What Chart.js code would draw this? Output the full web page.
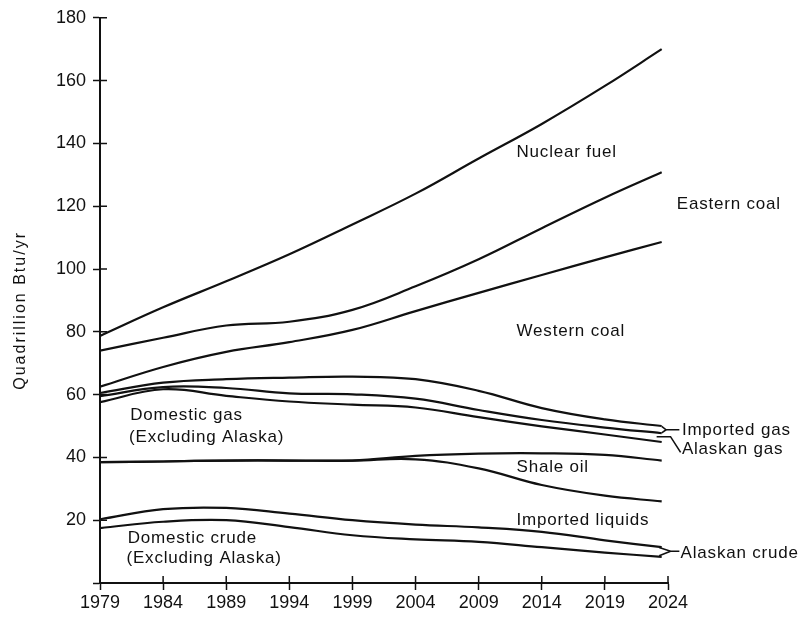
<!DOCTYPE html>
<html>
<head>
<meta charset="utf-8">
<script src="https://cdn.jsdelivr.net/npm/chart.js@4/dist/chart.umd.min.js"></script>
<style>
  html, body { margin: 0; background: #fff; }
  #wrap { width: 801px; height: 620px; }
</style>
</head>
<body>
<div id="wrap"><canvas id="chart"></canvas></div>
<script>
// years sampled along every curve (last point sits just short of 2024)
const years = [1979, 1984, 1989, 1994, 1999, 2004, 2009, 2014, 2019, 2023.5];
const yearTicks = [1979, 1984, 1989, 1994, 1999, 2004, 2009, 2014, 2019, 2024];
const valueTicks = [0, 20, 40, 60, 80, 100, 120, 140, 160, 180];

// cumulative boundary lines, quadrillion Btu/yr, top to bottom
const nuclearTop = [78.7, 87.8, 96.1, 104.7, 114.2, 124.0, 135.2, 146.2, 158.3, 170.0];
const easternCoalTop = [74.0, 78.1, 82.0, 83.2, 87.0, 94.5, 103.1, 113.0, 122.7, 130.8];
const westernCoalTop = [62.5, 68.8, 73.6, 76.7, 80.6, 86.6, 92.4, 98.1, 103.7, 108.6];
const importedGasTop = [60.5, 63.8, 64.9, 65.4, 65.7, 64.9, 61.2, 55.7, 52.1, 50.0];
const alaskanGasTop = [59.5, 62.4, 62.1, 60.4, 60.1, 58.7, 55.1, 51.9, 49.5, 47.7];
const domesticGasTop = [57.6, 61.7, 59.6, 57.8, 56.8, 55.9, 52.8, 49.9, 47.3, 44.9];
const shaleOilTop = [38.5, 38.7, 39.0, 39.0, 39.0, 40.5, 41.2, 41.3, 40.8, 39.0];
const importedLiquidsTop = [38.5, 38.7, 39.0, 39.0, 39.0, 39.4, 36.5, 31.2, 27.8, 26.0];
const alaskanCrudeTop = [20.3, 23.5, 23.9, 22.1, 20.0, 18.6, 17.7, 16.3, 13.6, 11.4];
const domesticCrudeTop = [17.5, 19.5, 20.0, 17.8, 15.2, 13.9, 13.1, 11.4, 9.7, 8.3];

const curves = [nuclearTop, easternCoalTop, westernCoalTop, importedGasTop, alaskanGasTop,
  domesticGasTop, shaleOilTop, importedLiquidsTop, alaskanCrudeTop, domesticCrudeTop];

// area labels, placed in data units: [text, year, value]
const notes = [
  ["Nuclear fuel", 2012.0, 137.3],
  ["Eastern coal", 2024.7, 120.5],
  ["Western coal", 2012.0, 80.2],
  ["Domestic gas", 1981.4, 53.3],
  ["(Excluding Alaska)", 1981.3, 46.3],
  ["Imported gas", 2025.1, 48.6],
  ["Alaskan gas", 2025.1, 42.5],
  ["Shale oil", 2012.0, 36.8],
  ["Imported liquids", 2012.0, 20.0],
  ["Domestic crude", 1981.2, 14.3],
  ["(Excluding Alaska)", 1981.1, 7.9],
  ["Alaskan crude", 2025.0, 9.6],
];
const leaders = [
  [[2023.5, 49.9], [2023.85, 48.8], [2024.9, 48.8]],
  [[2023.5, 47.8], [2023.85, 48.8]],
  [[2023.1, 46.6], [2024.2, 46.6], [2025.0, 41.6]],
  [[2023.3, 11.3], [2024.2, 10.1], [2024.9, 10.1]],
  [[2023.3, 8.7], [2024.2, 10.1]],
];

const INK = "#111";

const annotate = {
  id: "annotate",
  afterDraw(chart) {
    const { ctx, scales: { x, y }, chartArea } = chart;
    ctx.save();
    // inner half of the crossing tick marks
    ctx.strokeStyle = INK;
    ctx.lineWidth = 1.5;
    ctx.beginPath();
    valueTicks.forEach((v) => {
      if (v === 0) return;
      const py = y.getPixelForValue(v);
      ctx.moveTo(chartArea.left, py);
      ctx.lineTo(chartArea.left + 7, py);
    });
    yearTicks.forEach((v) => {
      if (v === yearTicks[0]) return;
      const px = x.getPixelForValue(v);
      ctx.moveTo(px, chartArea.bottom);
      ctx.lineTo(px, chartArea.bottom - 7);
    });
    ctx.stroke();

    // leader lines
    ctx.lineWidth = 1.6;
    leaders.forEach((pts) => {
      ctx.beginPath();
      pts.forEach(([yr, val], i) => {
        const px = x.getPixelForValue(yr);
        const py = y.getPixelForValue(val);
        if (i === 0) ctx.moveTo(px, py); else ctx.lineTo(px, py);
      });
      ctx.stroke();
    });

    // area labels
    ctx.fillStyle = INK;
    ctx.font = '17px "Liberation Sans", Arial, sans-serif';
    ctx.letterSpacing = "0.8px";
    ctx.textAlign = "left";
    ctx.textBaseline = "middle";
    notes.forEach(([text, yr, val]) => {
      ctx.fillText(text, x.getPixelForValue(yr), y.getPixelForValue(val));
    });

    // y axis title
    ctx.font = '16px "Liberation Sans", Arial, sans-serif';
    ctx.letterSpacing = "2px";
    ctx.textAlign = "center";
    ctx.translate(21, (chartArea.top + chartArea.bottom) / 2 + 10);
    ctx.rotate(-Math.PI / 2);
    ctx.fillText("Quadrillion Btu/yr", 0, 0);
    ctx.restore();
  },
};

new Chart(document.getElementById("chart"), {
  type: "line",
  data: {
    datasets: curves.map((values) => ({
      data: years.map((yr, i) => ({ x: yr, y: values[i] })),
      borderColor: INK,
      borderWidth: 2.2,
      pointRadius: 0,
      fill: false,
      tension: 0.4,
    })),
  },
  options: {
    responsive: true,
    maintainAspectRatio: false,
    animation: false,
    layout: { padding: { top: 15, right: 133, left: 0, bottom: 0 } },
    plugins: { legend: { display: false }, tooltip: { enabled: false } },
    scales: {
      x: {
        type: "linear",
        min: 1979,
        max: 2024,
        afterBuildTicks: (scale) => { scale.ticks = yearTicks.map((value) => ({ value })); },
        afterFit: (scale) => { scale.height = 37; },
        ticks: {
          callback: (value) => String(value),
          color: INK,
          font: { family: '"Liberation Sans", Arial, sans-serif', size: 18 },
          maxRotation: 0,
          padding: 2,
        },
        grid: { drawOnChartArea: false, tickLength: 7, tickColor: INK, tickWidth: 1.5 },
        border: { display: true, color: INK, width: 2 },
      },
      y: {
        min: 0,
        max: 180,
        afterBuildTicks: (scale) => { scale.ticks = valueTicks.map((value) => ({ value })); },
        afterFit: (scale) => { scale.width = 100; },
        ticks: {
          callback: (value) => (value === 0 ? "" : String(value)),
          color: INK,
          font: { family: '"Liberation Sans", Arial, sans-serif', size: 18 },
          padding: 7,
        },
        grid: { drawOnChartArea: false, tickLength: 7, tickColor: INK, tickWidth: 1.5 },
        border: { display: true, color: INK, width: 2 },
      },
    },
  },
  plugins: [annotate],
});
</script>
</body>
</html>
